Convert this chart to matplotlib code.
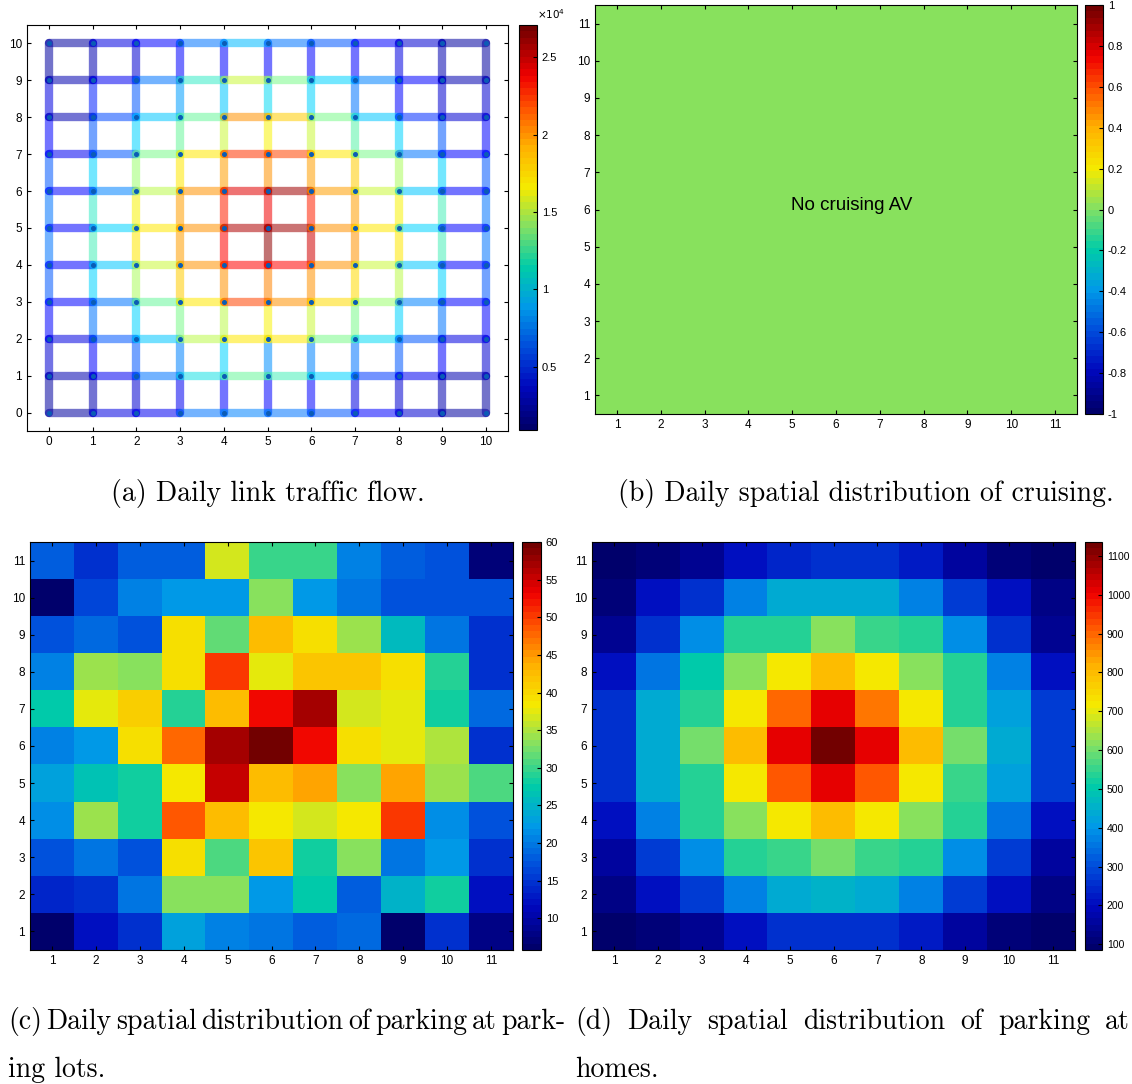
import numpy as np
import matplotlib
matplotlib.use("Agg")
import matplotlib.pyplot as plt
from matplotlib.colors import LinearSegmentedColormap, Normalize
from matplotlib.cm import ScalarMappable

# (a) link flows, x10^4 veh/day
# horizontal links, one row per y = 0..10, link i -> i+1
flow_h = [
    [0.20, 0.35, 0.40, 0.75, 0.80, 0.75, 0.70, 0.45, 0.30, 0.20],
    [0.25, 0.40, 0.75, 1.15, 1.35, 1.25, 1.05, 0.60, 0.40, 0.25],
    [0.35, 0.70, 1.00, 1.55, 1.75, 1.75, 1.40, 1.10, 0.70, 0.35],
    [0.45, 0.75, 1.35, 1.75, 2.20, 2.00, 1.80, 1.45, 0.80, 0.45],
    [0.45, 1.00, 1.60, 2.00, 2.35, 2.35, 2.00, 1.60, 1.00, 0.45],
    [0.45, 1.05, 1.75, 2.00, 2.55, 2.60, 2.00, 1.75, 1.05, 0.45],
    [0.45, 0.80, 1.55, 2.00, 2.45, 2.60, 1.95, 1.60, 1.00, 0.45],
    [0.40, 0.70, 1.40, 1.75, 2.25, 2.20, 1.75, 1.40, 0.75, 0.45],
    [0.25, 0.65, 1.00, 1.35, 2.00, 1.85, 1.40, 1.00, 0.55, 0.30],
    [0.25, 0.40, 0.75, 1.20, 1.60, 1.40, 1.05, 0.80, 0.45, 0.25],
    [0.20, 0.35, 0.45, 0.75, 0.95, 0.75, 0.70, 0.45, 0.30, 0.20],
]
# vertical links, one row per x = 0..10, link j -> j+1
flow_v = [
    [0.20, 0.30, 0.45, 0.70, 0.75, 0.75, 0.70, 0.45, 0.35, 0.20],
    [0.25, 0.45, 0.75, 1.05, 1.25, 1.20, 1.05, 0.70, 0.50, 0.25],
    [0.30, 0.70, 1.05, 1.50, 1.75, 1.70, 1.45, 1.05, 0.70, 0.30],
    [0.40, 0.80, 1.40, 1.85, 1.95, 1.95, 1.75, 1.35, 0.90, 0.45],
    [0.45, 1.05, 1.55, 2.00, 2.35, 2.30, 1.95, 1.60, 1.00, 0.45],
    [0.45, 0.85, 1.70, 2.05, 2.65, 2.40, 2.00, 1.70, 1.10, 0.45],
    [0.45, 0.80, 1.60, 2.00, 2.50, 2.30, 1.95, 1.60, 1.05, 0.45],
    [0.35, 0.75, 1.40, 1.80, 2.00, 1.95, 1.85, 1.30, 0.75, 0.45],
    [0.30, 0.70, 1.05, 1.55, 1.75, 1.70, 1.50, 1.05, 0.45, 0.35],
    [0.25, 0.45, 0.75, 1.05, 1.25, 1.25, 1.05, 0.70, 0.30, 0.25],
    [0.20, 0.30, 0.45, 0.70, 0.75, 0.75, 0.70, 0.45, 0.30, 0.20],
]

# (b) cruising AVs per zone (none)
cruising = np.zeros((11, 11))

# (c) parking at parking lots, rows y = 11 (top) .. 1, columns x = 1..11
park_lots = [
    [18, 15, 18, 18.5, 37, 30, 30, 21, 18.5, 17, 7],
    [6, 16, 21, 22.5, 22, 33, 22, 19.5, 17.5, 17.5, 17],
    [17, 19, 17, 39.5, 31.5, 43, 39.5, 34, 25.5, 19.5, 15],
    [20.5, 34, 33, 39.5, 50, 37.5, 42, 42, 39.5, 29.5, 15],
    [27, 37.5, 41, 29.5, 43, 53, 57, 36.5, 37.5, 28, 19],
    [20.5, 22.5, 39.5, 47.5, 57, 60, 53, 39.5, 37.5, 35, 15],
    [23, 26.5, 28.5, 38.5, 55.5, 43, 44, 33, 44, 34, 31],
    [21.5, 34, 28.5, 48.5, 43, 38.5, 36.5, 38.5, 50, 21.5, 17],
    [17, 20, 17, 39.5, 31, 42, 28, 33, 19.5, 22, 15],
    [14, 15, 19.5, 33, 33, 22.5, 27, 18, 25, 28.5, 12.5],
    [6, 12, 15, 23, 21, 19.5, 18.5, 19, 6.5, 15, 7.5],
]

# (d) parking at homes, rows y = 11 (top) .. 1
park_homes = [
    [90, 110, 150, 200, 240, 250, 250, 220, 160, 115, 92],
    [115, 200, 260, 370, 440, 440, 440, 370, 280, 200, 120],
    [150, 260, 390, 530, 540, 620, 560, 530, 390, 260, 150],
    [200, 350, 500, 620, 720, 800, 720, 620, 530, 370, 210],
    [250, 440, 540, 720, 900, 1010, 880, 720, 540, 420, 270],
    [250, 440, 610, 800, 1010, 1130, 1010, 800, 610, 440, 270],
    [250, 440, 540, 720, 920, 1010, 920, 720, 560, 420, 270],
    [210, 380, 530, 620, 720, 800, 720, 620, 530, 350, 210],
    [160, 270, 390, 530, 560, 610, 560, 530, 390, 270, 160],
    [125, 210, 270, 380, 440, 460, 440, 380, 270, 210, 125],
    [90, 115, 150, 200, 260, 260, 260, 220, 160, 115, 90],
]

W, H = 1132, 1084

plt.rcParams['font.family'] = 'Liberation Sans'
plt.rcParams['font.size'] = 8.5
plt.rcParams['xtick.direction'] = 'in'
plt.rcParams['ytick.direction'] = 'in'
plt.rcParams['xtick.top'] = True
plt.rcParams['ytick.right'] = True
plt.rcParams['xtick.major.size'] = 3
plt.rcParams['ytick.major.size'] = 3
plt.rcParams['axes.linewidth'] = 0.8

cmap = LinearSegmentedColormap.from_list('jetlike', [
    (0.00, (0.00, 0.00, 0.42)),
    (0.10, (0.00, 0.03, 0.74)),
    (0.20, (0.00, 0.30, 0.86)),
    (0.30, (0.00, 0.60, 0.91)),
    (0.40, (0.00, 0.80, 0.66)),
    (0.50, (0.50, 0.88, 0.40)),
    (0.60, (0.96, 0.92, 0.00)),
    (0.70, (1.00, 0.70, 0.00)),
    (0.80, (1.00, 0.32, 0.00)),
    (0.88, (0.94, 0.00, 0.00)),
    (1.00, (0.45, 0.00, 0.00)),
], N=64)

# a brighter jet for the translucent links
cmap_net = LinearSegmentedColormap.from_list('jetnet', [
    (0.00, (0.00, 0.00, 0.50)),
    (0.125, (0.00, 0.00, 1.00)),
    (0.28, (0.00, 0.55, 1.00)),
    (0.37, (0.00, 0.85, 1.00)),
    (0.45, (0.30, 0.95, 0.70)),
    (0.52, (0.60, 1.00, 0.45)),
    (0.625, (1.00, 0.95, 0.00)),
    (0.75, (1.00, 0.50, 0.00)),
    (0.875, (1.00, 0.00, 0.00)),
    (1.00, (0.50, 0.00, 0.00)),
], N=64)


def box(x0, y0, x1, y1):
    return [x0 / W, 1 - y1 / H, (x1 - x0) / W, (y1 - y0) / H]


fig = plt.figure(figsize=(W / 100, H / 100), dpi=100)

# ---- (a) network ----
ax = fig.add_axes(box(27, 25, 508, 431))
norm_a = Normalize(0.09, 2.71)
for i, col in enumerate(flow_v):
    for j, v in enumerate(col):
        ax.plot([i, i], [j, j + 1], color=cmap_net(norm_a(v)), alpha=0.55,
                lw=6, solid_capstyle='round')
for j, row in enumerate(flow_h):
    for i, v in enumerate(row):
        ax.plot([i, i + 1], [j, j], color=cmap_net(norm_a(v)), alpha=0.55,
                lw=6, solid_capstyle='round')
xx, yy = np.meshgrid(range(11), range(11))
ax.plot(xx.ravel(), yy.ravel(), 'o', ms=2.6, color='#0b5cb5', zorder=3)
ax.set_xlim(-0.5, 10.5)
ax.set_ylim(-0.5, 10.5)
ax.set_xticks(range(11))
ax.set_yticks(range(11))

cax = fig.add_axes(box(519, 25, 537, 430))
cb = fig.colorbar(ScalarMappable(norm_a, cmap), cax=cax)
cb.set_ticks([0.5, 1, 1.5, 2, 2.5])
cb.set_ticklabels(['0.5', '1', '1.5', '2', '2.5'])
cax.tick_params(direction='in', length=3, labelsize=8)
cax.text(1.0, 1.01, r'$\times10^4$', transform=cax.transAxes, fontsize=7.5,
         ha='left', va='bottom')

# ---- (b) cruising ----
ax = fig.add_axes(box(595, 5, 1077, 414))
ax.imshow(cruising, cmap=cmap, vmin=-1, vmax=1, origin='lower',
          extent=(0.5, 11.5, 0.5, 11.5), aspect='auto')
ax.set_xticks(range(1, 12))
ax.set_yticks(range(1, 12))
ax.text(6.35, 6.1, 'No cruising AV', fontsize=13.5, ha='center', va='center')

cax = fig.add_axes(box(1085, 5, 1103, 414))
cb = fig.colorbar(ScalarMappable(Normalize(-1, 1), cmap), cax=cax)
ticks_b = np.round(np.arange(-1, 1.01, 0.2), 1)
cb.set_ticks(ticks_b)
cb.set_ticklabels(['%g' % t if t != 0 else '0' for t in ticks_b])
cax.tick_params(direction='in', length=3, labelsize=8)

# ---- (c) parking lots ----
ax = fig.add_axes(box(30, 542, 513, 950))
im = ax.imshow(park_lots, cmap=cmap, vmin=5.8, vmax=60, origin='upper',
               extent=(0.5, 11.5, 0.5, 11.5), aspect='auto')
ax.set_xticks(range(1, 12))
ax.set_yticks(range(1, 12))
cax = fig.add_axes(box(522, 542, 541, 950))
cb = fig.colorbar(im, cax=cax)
cb.set_ticks(range(10, 61, 5))
cax.tick_params(direction='in', length=3, labelsize=8)

# ---- (d) homes ----
ax = fig.add_axes(box(592, 542, 1075, 950))
im = ax.imshow(park_homes, cmap=cmap, vmin=85, vmax=1136, origin='upper',
               extent=(0.5, 11.5, 0.5, 11.5), aspect='auto')
ax.set_xticks(range(1, 12))
ax.set_yticks(range(1, 12))
cax = fig.add_axes(box(1085, 542, 1102, 950))
cb = fig.colorbar(im, cax=cax)
cb.set_ticks(range(100, 1101, 100))
cax.tick_params(direction='in', length=3, labelsize=7.5)

# ---- captions ----
cap = dict(family='cmr10', fontsize=20, va='center')
fig.text(268 / W, 1 - 493 / H, '(a) Daily link traffic flow.', ha='center', **cap)
fig.text(866 / W, 1 - 493 / H, '(b) Daily spatial distribution of cruising.',
         ha='center', **cap)

renderer = fig.canvas.get_renderer()


def justify(words, x0, x1, y):
    texts = [fig.text(0, 1 - y / H, w, ha='left', **cap) for w in words]
    widths = [t.get_window_extent(renderer).width for t in texts]
    gap = (x1 - x0 - sum(widths)) / (len(words) - 1)
    x = x0
    for t, w in zip(texts, widths):
        t.set_x(x / W)
        x += w + gap


justify('(c) Daily spatial distribution of parking at park-'.split(), 8, 565, 1022)
fig.text(8 / W, 1 - 1070 / H, 'ing lots.', ha='left', **cap)
justify('(d) Daily spatial distribution of parking at'.split(), 575, 1130, 1022)
fig.text(575 / W, 1 - 1070 / H, 'homes.', ha='left', **cap)

fig.savefig('out.png', dpi=100)
